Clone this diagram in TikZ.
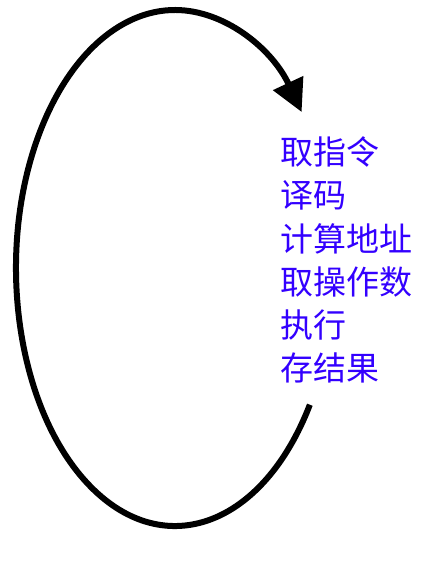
\documentclass[tikz,border=0pt]{standalone}
\usepackage{fontspec}
\newfontfamily\cjk{Noto Sans CJK SC}
\usetikzlibrary{arrows.meta}
\definecolor{txtblue}{RGB}{51,0,255}
\tikzset{
  step label/.style={anchor=west, inner sep=0pt, text=txtblue, font=\cjk\fontsize{33}{36}\selectfont},
  cycle/.style={line width=6pt, -{Triangle[length=32pt,width=32pt]}}
}
\begin{document}
\begin{tikzpicture}[x=1pt,y=1pt]
\useasboundingbox (0,0) rectangle (430,569);
\coordinate (start) at ({175+159*cos(-32)},{301+258*sin(-32)});
\draw[cycle] (start) arc[start angle=-32, end angle=-322.8, x radius=159, y radius=258];
\node[step label] (s1) at (280,417) {取指令};
\node[step label] (s2) at (280,374) {译码};
\node[step label] (s3) at (280,330) {计算地址};
\node[step label] (s4) at (280,287) {取操作数};
\node[step label] (s5) at (280,244) {执行};
\node[step label] (s6) at (280,201) {存结果};
\end{tikzpicture}
\end{document}
